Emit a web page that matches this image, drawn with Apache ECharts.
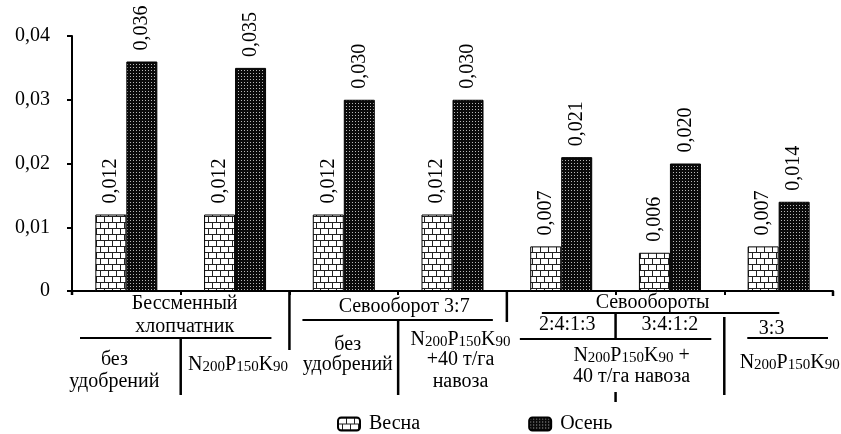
<!DOCTYPE html>
<html><head><meta charset="utf-8">
<script src="https://cdn.jsdelivr.net/npm/echarts@6/dist/echarts.min.js"></script>
<style>html,body{margin:0;padding:0;background:#fff}#c{width:841px;height:434px}</style>
</head><body><div id="c"></div>
<script>
const categories = ['c1','c2','c3','c4','c5','c6','c7'];
const spring = [0.012, 0.012, 0.012, 0.012, 0.007, 0.006, 0.007];
const autumn = [0.036, 0.035, 0.030, 0.030, 0.021, 0.020, 0.014];
const seriesNames = ['Весна', 'Осень'];
const yTicks = [0, 0.01, 0.02, 0.03, 0.04];

const FONT = 'Liberation Serif';
const FS = 20;

function brick() {
  const c = document.createElement('canvas'); c.width = 8; c.height = 12;
  const g = c.getContext('2d');
  g.fillStyle = '#fff'; g.fillRect(0,0,8,12);
  g.fillStyle = '#222';
  g.fillRect(0,0,8,1); g.fillRect(0,6,8,1);
  g.fillRect(0,0,1,6); g.fillRect(4,6,1,6);
  return c;
}
function dots() {
  const c = document.createElement('canvas'); c.width = 3; c.height = 3;
  const g = c.getContext('2d');
  g.fillStyle = '#0a0a0a'; g.fillRect(0,0,3,3);
  g.fillStyle = '#b8b8b8'; g.fillRect(1,1,1,1);
  return c;
}
const fmt3 = v => v.toFixed(3).replace('.', ',');

const chart = echarts.init(document.getElementById('c'), null, {renderer: 'canvas'});
const labelOpt = {
  show: true, position: 'top', rotate: 90, align: 'left', verticalAlign: 'middle',
  distance: 11, fontFamily: FONT, fontSize: FS, color: '#000',
  formatter: p => fmt3(p.value)
};
chart.setOption({
  animation: false,
  grid: {left: 72, right: 8, top: 36, bottom: 143, containLabel: false},
  legend: {
    left: 337, top: 414, padding: 0, itemWidth: 22, itemHeight: 13, itemGap: 108,
    textStyle: {fontFamily: FONT, fontSize: FS, color: '#000', padding: [0, 0, 0, 4]},
    data: seriesNames
  },
  xAxis: {
    type: 'category', data: categories,
    axisLine: {lineStyle: {color: '#000', width: 2}},
    axisTick: {show: true, length: 4, lineStyle: {color: '#000', width: 2}},
    axisLabel: {show: false}
  },
  yAxis: {
    type: 'value', min: yTicks[0], max: yTicks[yTicks.length-1], interval: 0.01,
    axisLine: {show: true, lineStyle: {color: '#000', width: 2}},
    axisTick: {show: true, length: 5, lineStyle: {color: '#000', width: 2}},
    splitLine: {show: false},
    axisLabel: {margin: 22, fontFamily: FONT, fontSize: FS, color: '#000',
      formatter: v => v === 0 ? '0' : v.toFixed(2).replace('.', ',')}
  },
  series: [
    {name: seriesNames[0], type: 'bar', data: spring, barWidth: 31, barGap: '0%',
     itemStyle: {color: {image: brick(), repeat: 'repeat'}, borderColor: '#000', borderWidth: 1},
     label: labelOpt},
    {name: seriesNames[1], type: 'bar', data: autumn, barWidth: 31,
     itemStyle: {color: {image: dots(), repeat: 'repeat'}, borderColor: '#000', borderWidth: 1},
     label: labelOpt}
  ]
});

// hierarchical category labels, positioned from the axis scale
const c0 = chart.convertToPixel({xAxisIndex: 0}, 0);
const c1 = chart.convertToPixel({xAxisIndex: 0}, 1);
const w = c1 - c0;
const B = k => c0 - w / 2 + k * w;          // boundary k (0..7)
const C = k => c0 + k * w;                  // center of category k
const y0 = chart.convertToPixel({yAxisIndex: 0}, 0);

const rich = {
  n: {fontFamily: FONT, fontSize: FS, color: '#000', lineHeight: 21, verticalAlign: 'bottom'},
  s: {fontFamily: FONT, fontSize: 15, color: '#000', lineHeight: 15, verticalAlign: 'bottom'}
};
const npk = '{n|N}{s|200}{n|P}{s|150}{n|K}{s|90}';
const els = [];
function T(text, x, y, useRich) {
  const st = {text, x, y, align: 'center', verticalAlign: 'middle', fill: '#000',
    fontFamily: FONT, fontSize: FS};
  if (useRich) st.rich = rich;
  els.push({type: 'text', style: st, z: 10});
}
function V(x, ya, yb) {
  els.push({type: 'line', shape: {x1: x, y1: y0 + ya, x2: x, y2: y0 + yb},
    style: {stroke: '#000', lineWidth: 2.5}, z: 10});
}
function H(xa, xb, y) {
  els.push({type: 'line', shape: {x1: xa, y1: y0 + y, x2: xb, y2: y0 + y},
    style: {stroke: '#000', lineWidth: 2}, z: 10});
}
// vertical dividers
V(B(0), 0, 4); V(B(7), 0, 5);
V(B(2), 0, 59);
V(B(1), 47, 104);
V(B(3), 29, 104);
V(B(4), 0, 31);
V(B(5), 22, 47); V(B(5), 101, 111);
V(B(6), 26, 104);
// horizontal rules
H(B(0) + 8, B(2) - 18, 47);
H(B(2) + 13, B(4) - 14, 29);
H(B(4) + 35, B(6) + 55, 22);
H(B(4) + 13, B(6) - 13, 48);
H(B(6) + 23, B(7) - 5, 47);
// texts
T('Бессменный', B(1) + 4, y0 + 13);
T('хлопчатник', B(1) + 4, y0 + 36);
T('без', C(0) - 12, y0 + 69);
T('удобрений', C(0) - 12, y0 + 91);
T(npk, C(1) + 3, y0 + 73, true);
T('Севооборот 3:7', B(3) + 6, y0 + 16);
T('без', C(2) + 4, y0 + 54);
T('удобрений', C(2) + 4, y0 + 74);
T(npk, C(3) + 8, y0 + 48, true);
T('+40 т/га', C(3) + 8, y0 + 69);
T('навоза', C(3) + 8, y0 + 91);
T('Севообороты', B(5) + 37, y0 + 12);
T('2:4:1:3', C(4) + 6, y0 + 34);
T('3:4:1:2', C(5), y0 + 34);
T(npk + '{n| +}', B(5) + 16, y0 + 64, true);
T('40 т/га навоза', B(5) + 16, y0 + 86);
T('3:3', C(6) - 7, y0 + 38);
T(npk, C(6) + 11, y0 + 71, true);
chart.setOption({graphic: {elements: els}});
</script></body></html>
